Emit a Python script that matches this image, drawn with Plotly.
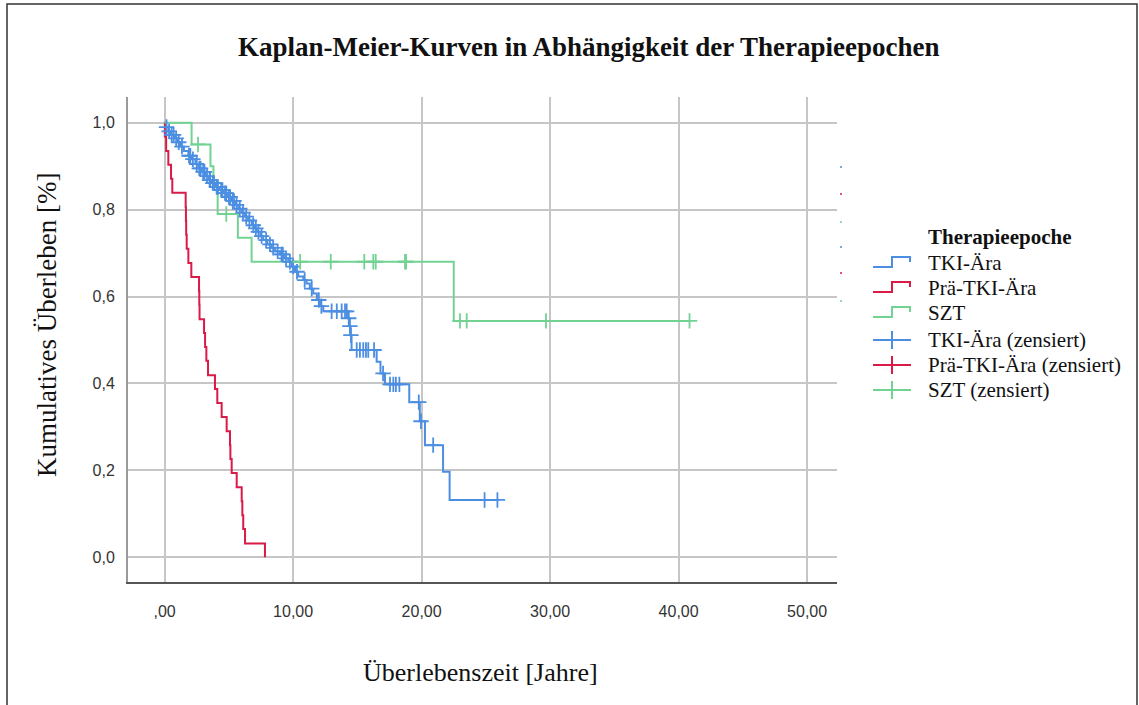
import numpy as np
import plotly.graph_objects as go

# ---------------- data ----------------
tki_time = [0, 0.1, 0.3, 0.5, 0.8, 1.0, 1.2, 1.5, 1.85, 2.1, 2.4, 2.62, 2.89, 3.2, 3.45,
            3.66, 3.92, 4.25, 4.57, 4.9, 5.2, 5.48, 5.74, 6.0, 6.26, 6.5, 6.8, 7.03, 7.17,
            7.45, 7.68, 8.0, 8.33, 8.6, 8.98, 9.3, 9.63, 9.9, 10.15, 10.4, 10.8, 11.05, 11.3,
            11.57, 11.85, 12.09, 12.35, 14.28, 14.38, 14.46, 14.55, 16.5, 16.8, 17.15, 19.04,
            19.86, 20.26, 21.67, 22.18, 26.0]
tki_surv = [1.0, 0.99, 0.98, 0.972, 0.964, 0.955, 0.945, 0.935, 0.924, 0.916, 0.905, 0.895,
            0.887, 0.877, 0.868, 0.861, 0.852, 0.845, 0.838, 0.829, 0.82, 0.811, 0.802, 0.793,
            0.784, 0.775, 0.764, 0.757, 0.749, 0.739, 0.73, 0.72, 0.712, 0.704, 0.697, 0.688,
            0.68, 0.669, 0.657, 0.646, 0.638, 0.63, 0.618, 0.607, 0.592, 0.578, 0.566, 0.55,
            0.532, 0.511, 0.477, 0.45, 0.423, 0.398, 0.357, 0.313, 0.258, 0.197, 0.132, 0.132]
tki_censored = [0.15, 0.35, 0.55, 0.7, 0.9, 1.1, 1.35, 1.9, 2.0, 2.2, 2.5, 2.7, 2.8, 3.0, 3.1,
                3.3, 3.5, 3.55, 3.75, 3.85, 4.05, 4.15, 4.4, 4.5, 4.7, 4.8, 5.0, 5.1, 5.3, 5.4,
                5.6, 5.85, 6.1, 6.35, 6.6, 6.9, 7.1, 7.3, 7.55, 7.9, 8.2, 8.45, 8.8, 9.1, 9.2,
                9.45, 9.75, 10.0, 10.3, 10.9, 11.45, 12.0, 12.2, 13.0, 13.4, 13.78, 14.04,
                14.17, 14.33, 14.42, 14.5, 14.95, 15.2, 15.46, 15.67, 15.85, 16.3, 17.0, 17.54,
                17.8, 18.0, 18.27, 19.78, 19.95, 20.9, 24.9, 25.9]

pre_time = [0, 0.02, 0.12, 0.29, 0.5, 0.6, 1.64, 1.66, 1.68, 1.72, 1.85, 2.08, 2.68, 2.70,
            2.72, 3.07, 3.15, 3.25, 3.38, 3.92, 4.10, 4.44, 4.83, 5.09, 5.12, 5.22, 5.61, 6.00,
            6.05, 6.12, 6.26, 7.81]
pre_surv = [1.0, 0.968, 0.935, 0.903, 0.871, 0.839, 0.806, 0.774, 0.742, 0.71, 0.677, 0.645,
            0.613, 0.581, 0.548, 0.516, 0.484, 0.452, 0.419, 0.387, 0.355, 0.323, 0.29, 0.258,
            0.226, 0.194, 0.161, 0.129, 0.097, 0.065, 0.032, 0.0]
pre_censored = []

szt_time = [0, 2.1, 3.57, 3.8, 4.13, 5.7, 6.77, 22.5, 40.85]
szt_surv = [1.0, 0.95, 0.9, 0.845, 0.79, 0.735, 0.68, 0.544, 0.544]
szt_censored = [2.6, 4.8, 10.55, 12.93, 15.54, 16.24, 16.43, 18.71, 18.79, 22.99, 23.51,
                29.68, 40.85]

x_ticks = [0, 10, 20, 30, 40, 50]
x_ticktext = [",00", "10,00", "20,00", "30,00", "40,00", "50,00"]
y_ticks = [0.0, 0.2, 0.4, 0.6, 0.8, 1.0]
y_ticktext = ["0,0", "0,2", "0,4", "0,6", "0,8", "1,0"]

legend_title = "Therapieepoche"
legend_labels = ["TKI-Ära", "Prä-TKI-Ära", "SZT",
                 "TKI-Ära (zensiert)", "Prä-TKI-Ära (zensiert)", "SZT (zensiert)"]

BLUE = "#4b8ee2"
RED = "#da1a47"
GREEN = "#72d292"

# ---------------- layout geometry ----------------
W, H = 1139, 705
L, R, T, B = 128, 302, 97, 123
PW, PH = W - L - R, H - T - B


def px(xp):
    return (xp - L) / PW


def py(yp):
    return (H - B - yp) / PH


def surv_at(times, surv, ts):
    idx = np.searchsorted(np.asarray(times), np.asarray(ts, dtype=float), side="right") - 1
    return [surv[i] for i in idx]


fig = go.Figure()

groups = [
    (tki_time, tki_surv, tki_censored, BLUE),
    (pre_time, pre_surv, pre_censored, RED),
    (szt_time, szt_surv, szt_censored, GREEN),
]
for times, surv, cens, col in groups:
    fig.add_trace(go.Scatter(x=times, y=surv, mode="lines",
                             line=dict(color=col, width=2, shape="hv"),
                             showlegend=False, hoverinfo="skip"))
for times, surv, cens, col in groups:
    if cens:
        fig.add_trace(go.Scatter(x=cens, y=surv_at(times, surv, cens), mode="markers",
                                 marker=dict(symbol="cross-thin", size=11,
                                             line=dict(color=col, width=1.8)),
                                 showlegend=False, hoverinfo="skip"))

SERIF = "Liberation Serif, Times New Roman, serif"
SANS = "Liberation Sans, Arial, sans-serif"

annotations = [
    dict(text="<b>Kaplan-Meier-Kurven in Abhängigkeit der Therapieepochen</b>",
         x=px(589), y=py(47), xref="paper", yref="paper", showarrow=False,
         xanchor="center", yanchor="middle", font=dict(family=SERIF, size=27, color="#111")),
    dict(text="Überlebenszeit [Jahre]", x=px(480), y=py(672), xref="paper", yref="paper",
         showarrow=False, xanchor="center", yanchor="middle",
         font=dict(family=SERIF, size=26, color="#111")),
    dict(text="Kumulatives Überleben [%]", x=px(47), y=py(325), xref="paper", yref="paper",
         showarrow=False, xanchor="center", yanchor="middle", textangle=-90,
         font=dict(family=SERIF, size=27, color="#111")),
    dict(text="<b>" + legend_title + "</b>", x=px(926), y=py(237), xref="paper", yref="paper",
         showarrow=False, xanchor="left", yanchor="middle",
         font=dict(family=SERIF, size=21, color="#111")),
]

row_y = [263, 288, 313, 340, 365, 390]
row_cols = [BLUE, RED, GREEN, BLUE, RED, GREEN]
shapes = []
for i, (lab, c, col) in enumerate(zip(legend_labels, row_y, row_cols)):
    annotations.append(dict(text=lab, x=px(926), y=py(c), xref="paper", yref="paper",
                            showarrow=False, xanchor="left", yanchor="middle",
                            font=dict(family=SERIF, size=21, color="#111")))
    if i < 3:
        path = (f"M {px(873)},{py(c + 4)} L {px(892)},{py(c + 4)} L {px(892)},{py(c - 6)} "
                f"L {px(910)},{py(c - 6)} L {px(910)},{py(c - 1)}")
        shapes.append(dict(type="path", path=path, xref="paper", yref="paper",
                           line=dict(color=col, width=2)))
    else:
        shapes.append(dict(type="line", x0=px(873), x1=px(911), y0=py(c), y1=py(c),
                           xref="paper", yref="paper", line=dict(color=col, width=2)))
        shapes.append(dict(type="line", x0=px(892), x1=px(892), y0=py(c - 9), y1=py(c + 9),
                           xref="paper", yref="paper", line=dict(color=col, width=2)))

# tiny clipped legend remnants at the right of the plot
for yy, col in zip([167, 194, 222, 247, 273, 301], [BLUE, RED, GREEN, BLUE, RED, GREEN]):
    shapes.append(dict(type="line", x0=px(840), x1=px(842), y0=py(yy), y1=py(yy),
                       xref="paper", yref="paper", line=dict(color=col, width=1.5)))

# outer frame
shapes.append(dict(type="rect", x0=px(7), x1=px(1137), y0=py(720), y1=py(4),
                   xref="paper", yref="paper", line=dict(color="#333", width=1.5),
                   fillcolor="rgba(0,0,0,0)", layer="below"))

fig.update_layout(
    width=W, height=H,
    margin=dict(l=L, r=R, t=T, b=B),
    paper_bgcolor="white", plot_bgcolor="white",
    showlegend=False,
    annotations=annotations,
    shapes=shapes,
    xaxis=dict(range=[(L - 164.6) / 12.85, (L + PW - 164.6) / 12.85],
               tickvals=x_ticks, ticktext=x_ticktext,
               showgrid=True, gridcolor="#c6c6c6", gridwidth=2, zeroline=False,
               showline=True, linecolor="#555", linewidth=2,
               ticks="outside", ticklen=14, tickcolor="rgba(0,0,0,0)",
               tickfont=dict(family=SANS, size=16, color="#333")),
    yaxis=dict(range=[(557.3 - (H - B)) / 434.6, (557.3 - T) / 434.6],
               tickvals=y_ticks, ticktext=y_ticktext,
               showgrid=True, gridcolor="#c6c6c6", gridwidth=2, zeroline=False,
               showline=True, linecolor="#9a9a9a", linewidth=2,
               ticks="outside", ticklen=8, tickcolor="rgba(0,0,0,0)",
               tickfont=dict(family=SANS, size=16, color="#333")),
)

fig.write_html("out.html")
